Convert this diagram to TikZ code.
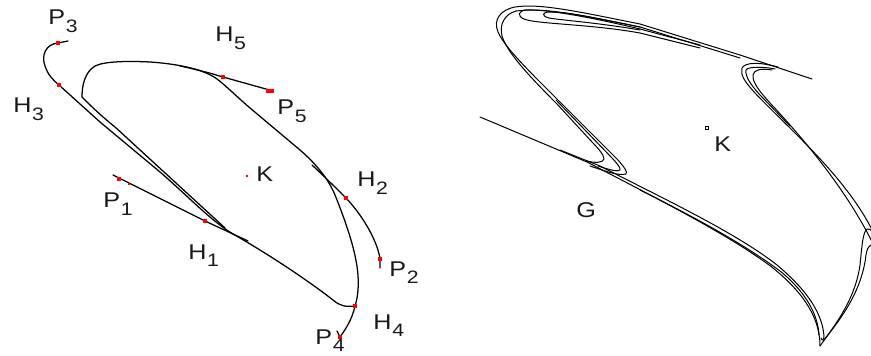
\documentclass[tikz,border=0pt]{standalone}
\usepackage{fontspec}
\setmainfont{Liberation Sans}[FakeStretch=1.18]
\newcommand\lbl[2]{#1\kern0.6pt\raisebox{-5.5pt}{\fontsize{13.5}{13.5}\selectfont #2}}
\tikzset{
  lab/.style={anchor=base west, inner sep=0pt, font=\fontsize{16}{16}\selectfont, text=black!90},
  curve/.style={line width=0.95pt, line join=round, line cap=round},
  thin curve/.style={line width=0.75pt, line join=round, line cap=round},
  rdot/.style={rectangle, fill=red, inner sep=0pt, minimum size=2.6pt}
}
\begin{document}
\begin{tikzpicture}[x=0.75pt,y=-0.75pt]
\useasboundingbox (0,0) rectangle (871,356);
% ---------------- left panel ----------------
% P3 branch through H3 down to H4
\draw[curve] (68,41) -- (58,43) .. controls (46,44) and (41,55) .. (45,66)
  .. controls (48,75) and (53,80) .. (59,85) -- (100,122) -- (160,172)
  .. controls (190,198) and (210,220) .. (233,234)
  .. controls (270,255) and (310,282) .. (333,300)
  .. controls (340,306) and (345,307) .. (355,306);
% inner loop
\draw[curve] (82,97) .. controls (82,85) and (85,72) .. (95,66)
  .. controls (105,61) and (130,61) .. (150,62)
  .. controls (180,64) and (205,70) .. (217,79)
  .. controls (225,85) and (235,95) .. (250,108) -- (300,150)
  .. controls (315,163) and (328,178) .. (335,195)
  .. controls (345,220) and (356,250) .. (358,275)
  .. controls (359,290) and (357,300) .. (355,306)
  .. controls (352,320) and (345,330) .. (340,337) -- (337,331);
\draw[curve] (82,97) .. controls (90,105) and (100,115) .. (115,127) -- (225,228);
% P1 branch
\draw[curve] (113,175) -- (205,221) -- (248,241);
% P5 branch
\draw[curve] (273,91) -- (223,77) .. controls (210,73) and (195,69) .. (180,66);
% P2 branch
\draw[curve] (312,165) .. controls (328,180) and (338,190) .. (346,198)
  .. controls (362,215) and (376,238) .. (380,258) -- (380,268);
% red points
\node[rdot] (dP3) at (58,43) {};
\node[rdot] (dH3) at (59,85) {};
\node[rdot] (dP5a) at (268,91) {};
\node[rdot] (dP5b) at (272,91) {};
\node[rdot] (dH5) at (223,77) {};
\node[rdot] (dP1a) at (119,179) {};
\node[rdot, minimum size=1.8pt] (dP1b) at (129,184) {};
\node[rdot] (dH1) at (205,221) {};
\node[rdot, minimum size=2.2pt] (dK) at (247,176) {};
\node[rdot] (dH2) at (346,198) {};
\node[rdot] (dP2) at (380,259) {};
\node[rdot] (dH4) at (355,306) {};
\node[rdot] (dP4) at (340,337) {};
% labels
\node[lab] (lP3) at (48,25) {\lbl{P}{3}};
\node[lab] (lH5) at (215,42) {\lbl{H}{5}};
\node[lab] (lH3) at (13,113) {\lbl{H}{3}};
\node[lab] (lP5) at (277,115) {\lbl{P}{5}};
\node[lab] (lK) at (256,182) {K};
\node[lab] (lH2) at (357,187) {\lbl{H}{2}};
\node[lab] (lP1) at (103,208) {\lbl{P}{1}};
\node[lab] (lH1) at (188,259) {\lbl{H}{1}};
\node[lab] (lP2) at (389,276) {\lbl{P}{2}};
\node[lab] (lH4) at (373,329) {\lbl{H}{4}};
\node[lab] (lP4) at (315,344) {\lbl{P}{4}};
% ---------------- right panel ----------------
\begin{scope}
\clip (440,0) rectangle (871,356);
% long line to the cusp
\draw[thin curve] (480,117) -- (587,162) .. controls (650,195) and (730,235) .. (773,268)
  .. controls (800,290) and (820,315) .. (820,346);
\draw[thin curve] (560,150) -- (600,166) .. controls (660,197) and (735,232) .. (777,265)
  .. controls (803,287) and (822,310) .. (824,336) .. controls (824,340) and (822,341) .. (821,338);
\draw[thin curve] (640,190) .. controls (700,220) and (745,245) .. (780,271)
  .. controls (806,292) and (818,315) .. (819,335);
% cusp return
\draw[thin curve] (820,346) .. controls (835,325) and (855,300) .. (860,265)
  .. controls (862,245) and (863,232) .. (867,229) .. controls (869,228) and (871,230) .. (873,233);
\draw[thin curve] (823,341) .. controls (842,318) and (862,290) .. (866,255)
  .. controls (867,248) and (869,245) .. (873,245);
% outer fold (top left)
\draw[thin curve] (590,166) .. controls (605,171) and (618,176) .. (626,174)
  .. controls (628,172) and (624,167) .. (618,160) -- (560,102)
  .. controls (530,72) and (505,48) .. (498,32)
  .. controls (493,20) and (500,10) .. (515,7)
  .. controls (540,3) and (580,12) .. (640,24) -- (740,55) -- (812,79);
\draw[thin curve] (586,161) .. controls (595,163) and (603,163) .. (604,159)
  .. controls (604,155) and (598,148) .. (592,142) -- (557,104)
  .. controls (527,74) and (507,52) .. (502,36)
  .. controls (499,24) and (505,14) .. (516,11)
  .. controls (545,7) and (585,16) .. (640,27) -- (740,58);
\draw[thin curve] (598,166) .. controls (610,170) and (618,172) .. (620,170)
  .. controls (621,168) and (616,162) .. (612,158) -- (556,100);
% hairpins at the top
\draw[thin curve] (700,48) -- (640,33) .. controls (590,24) and (535,24) .. (524,19)
  .. controls (517,16) and (518,11) .. (526,10) .. controls (545,9) and (590,17) .. (640,29) -- (700,45);
\draw[thin curve] (640,30) .. controls (600,23) and (560,20) .. (549,18)
  .. controls (541,16) and (542,12) .. (550,12) .. controls (570,12) and (605,20) .. (640,27);
% right fold
\draw[thin curve] (778,67) .. controls (760,62) and (745,62) .. (742,68)
  .. controls (740,75) and (745,82) .. (755,93)
  .. controls (790,130) and (850,180) .. (876,238);
\draw[thin curve] (772,70) .. controls (760,68) and (754,70) .. (753,75)
  .. controls (752,82) and (760,92) .. (770,103)
  .. controls (800,135) and (848,190) .. (876,250);
\draw[thin curve] (775,69) .. controls (765,67) and (748,66) .. (746,70)
  .. controls (745,76) and (750,84) .. (760,95) -- (790,126);
% K point and labels
\node[draw, rectangle, inner sep=0pt, minimum size=2.2pt, line width=0.4pt] (dK2) at (707,128) {};
\node[lab] (lK2) at (714,152) {K};
\node[lab] (lG) at (576,218) {G};
\end{scope}
\end{tikzpicture}
\end{document}
